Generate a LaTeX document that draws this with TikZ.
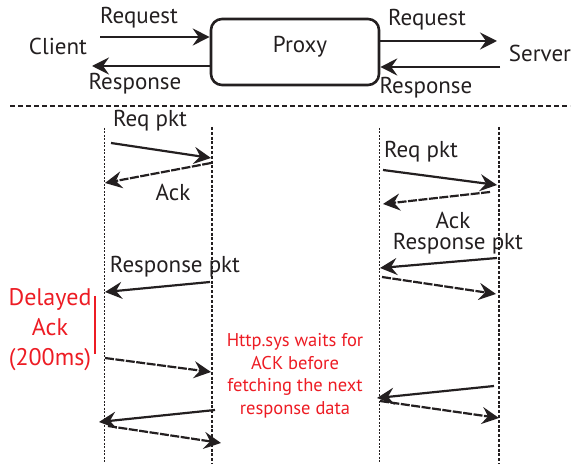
\documentclass[tikz,border=0pt]{standalone}
\usepackage{fontspec}
\setmainfont{PT Sans}
\usepackage{xcolor}
\usetikzlibrary{arrows.meta}
\definecolor{NoteRed}{HTML}{ED1C24}
\definecolor{InkBlack}{HTML}{231F20}

\begin{document}
\begin{tikzpicture}[x=1pt,y=1pt,
  msg/.style={InkBlack,line width=2.2pt,-{Stealth[length=17pt,width=17pt,inset=6pt]}},
  ackmsg/.style={msg,dash pattern=on 9pt off 1.5pt},
  lifethin/.style={InkBlack,line width=0.7pt,dash pattern=on 2pt off 1.5pt},
  lifethick/.style={InkBlack,line width=1.3pt,dash pattern=on 3pt off 1.8pt},
  lbl/.style={text=InkBlack,font=\fontsize{23}{26}\selectfont,inner sep=0pt},
  note/.style={text=NoteRed,align=center,inner sep=0pt}]
\path[use as bounding box] (0,0) rectangle (574,464);

% top: client - proxy - server
\node[lbl] (client) at (58,418) {Client};
\node[lbl] (server) at (540,411) {Server};
\node[lbl,draw=InkBlack,line width=2.6pt,rounded corners=11pt,
  minimum width=168pt,minimum height=66pt] (proxy) at (295,412) {};
\node[lbl] (proxytxt) at (300,417) {Proxy};
\coordinate (creq) at (100,427);
\coordinate (cresp) at (92,398);
\coordinate (sreq) at (497,423);
\coordinate (sresp) at (500,397);
\draw[msg] (creq) -- (creq -| proxy.west);
\draw[msg] (proxy.west |- cresp) -- (cresp);
\draw[msg] (proxy.east |- sreq) -- (sreq);
\draw[msg] (sresp) -- (proxy.east |- sresp);
\node[lbl] (creqtxt) at (139,446) {Request};
\node[lbl] (cresptxt) at (135,380) {Response};
\node[lbl] (sreqtxt) at (427,444) {Request};
\node[lbl] (sresptxt) at (426,376) {Response};

\draw[InkBlack,line width=1.5pt,dash pattern=on 5pt off 3pt] (10,358) -- (570,358);

% lifelines
\draw[lifethin] (104,336) -- (104,0);
\draw[lifethick] (212,337) -- (212,0);
\draw[lifethin] (379,336) -- (379,0);
\draw[lifethick] (499,337) -- (499,0);

% client side exchange
\coordinate (l1a) at (111,321);  \coordinate (l1b) at (211,306);
\coordinate (l2a) at (211,301);  \coordinate (l2b) at (105,281);
\coordinate (l3a) at (210,182);  \coordinate (l3b) at (105,172);
\coordinate (l4a) at (105,106);  \coordinate (l4b) at (211,92);
\coordinate (l5a) at (215,54);   \coordinate (l5b) at (99,42);
\coordinate (l6a) at (108,38);   \coordinate (l6b) at (221,21);
\draw[msg] (l1a) -- (l1b);
\draw[ackmsg] (l2a) -- (l2b);
\draw[msg] (l3a) -- (l3b);
\draw[ackmsg] (l4a) -- (l4b);
\draw[msg] (l5a) -- (l5b);
\draw[ackmsg] (l6a) -- (l6b);
\node[lbl] (lreq) at (150,343) {Req pkt};
\node[lbl] (lack) at (173,272) {Ack};
\node[lbl] (lresp) at (175,197) {Response pkt};

% server side exchange
\coordinate (r1a) at (383,294);  \coordinate (r1b) at (497,279);
\coordinate (r2a) at (490,272);  \coordinate (r2b) at (383,260);
\coordinate (r3a) at (497,206);  \coordinate (r3b) at (380,196);
\coordinate (r4a) at (382,187);  \coordinate (r4b) at (496,170);
\coordinate (r5a) at (494,78);   \coordinate (r5b) at (377,66);
\coordinate (r6a) at (380,63);   \coordinate (r6b) at (499,46);
\draw[msg] (r1a) -- (r1b);
\draw[ackmsg] (r2a) -- (r2b);
\draw[msg] (r3a) -- (r3b);
\draw[ackmsg] (r4a) -- (r4b);
\draw[msg] (r5a) -- (r5b);
\draw[ackmsg] (r6a) -- (r6b);
\node[lbl] (rreq) at (421,312) {Req pkt};
\node[lbl] (rack) at (453,244) {Ack};
\node[lbl] (rresp) at (458,220) {Response pkt};

% notes
\node[note,font=\fontsize{24}{30}\selectfont] (delay) at (50,134) {Delayed\\Ack\\(200ms)};
\draw[NoteRed,line width=2pt] (95,168) -- (95,110);
\node[note,font=\fontsize{18.5}{22.5}\selectfont] (wait) at (295,88)
  {Http.sys waits for\\ACK before\\fetching the next\\response data};
\end{tikzpicture}
\end{document}
